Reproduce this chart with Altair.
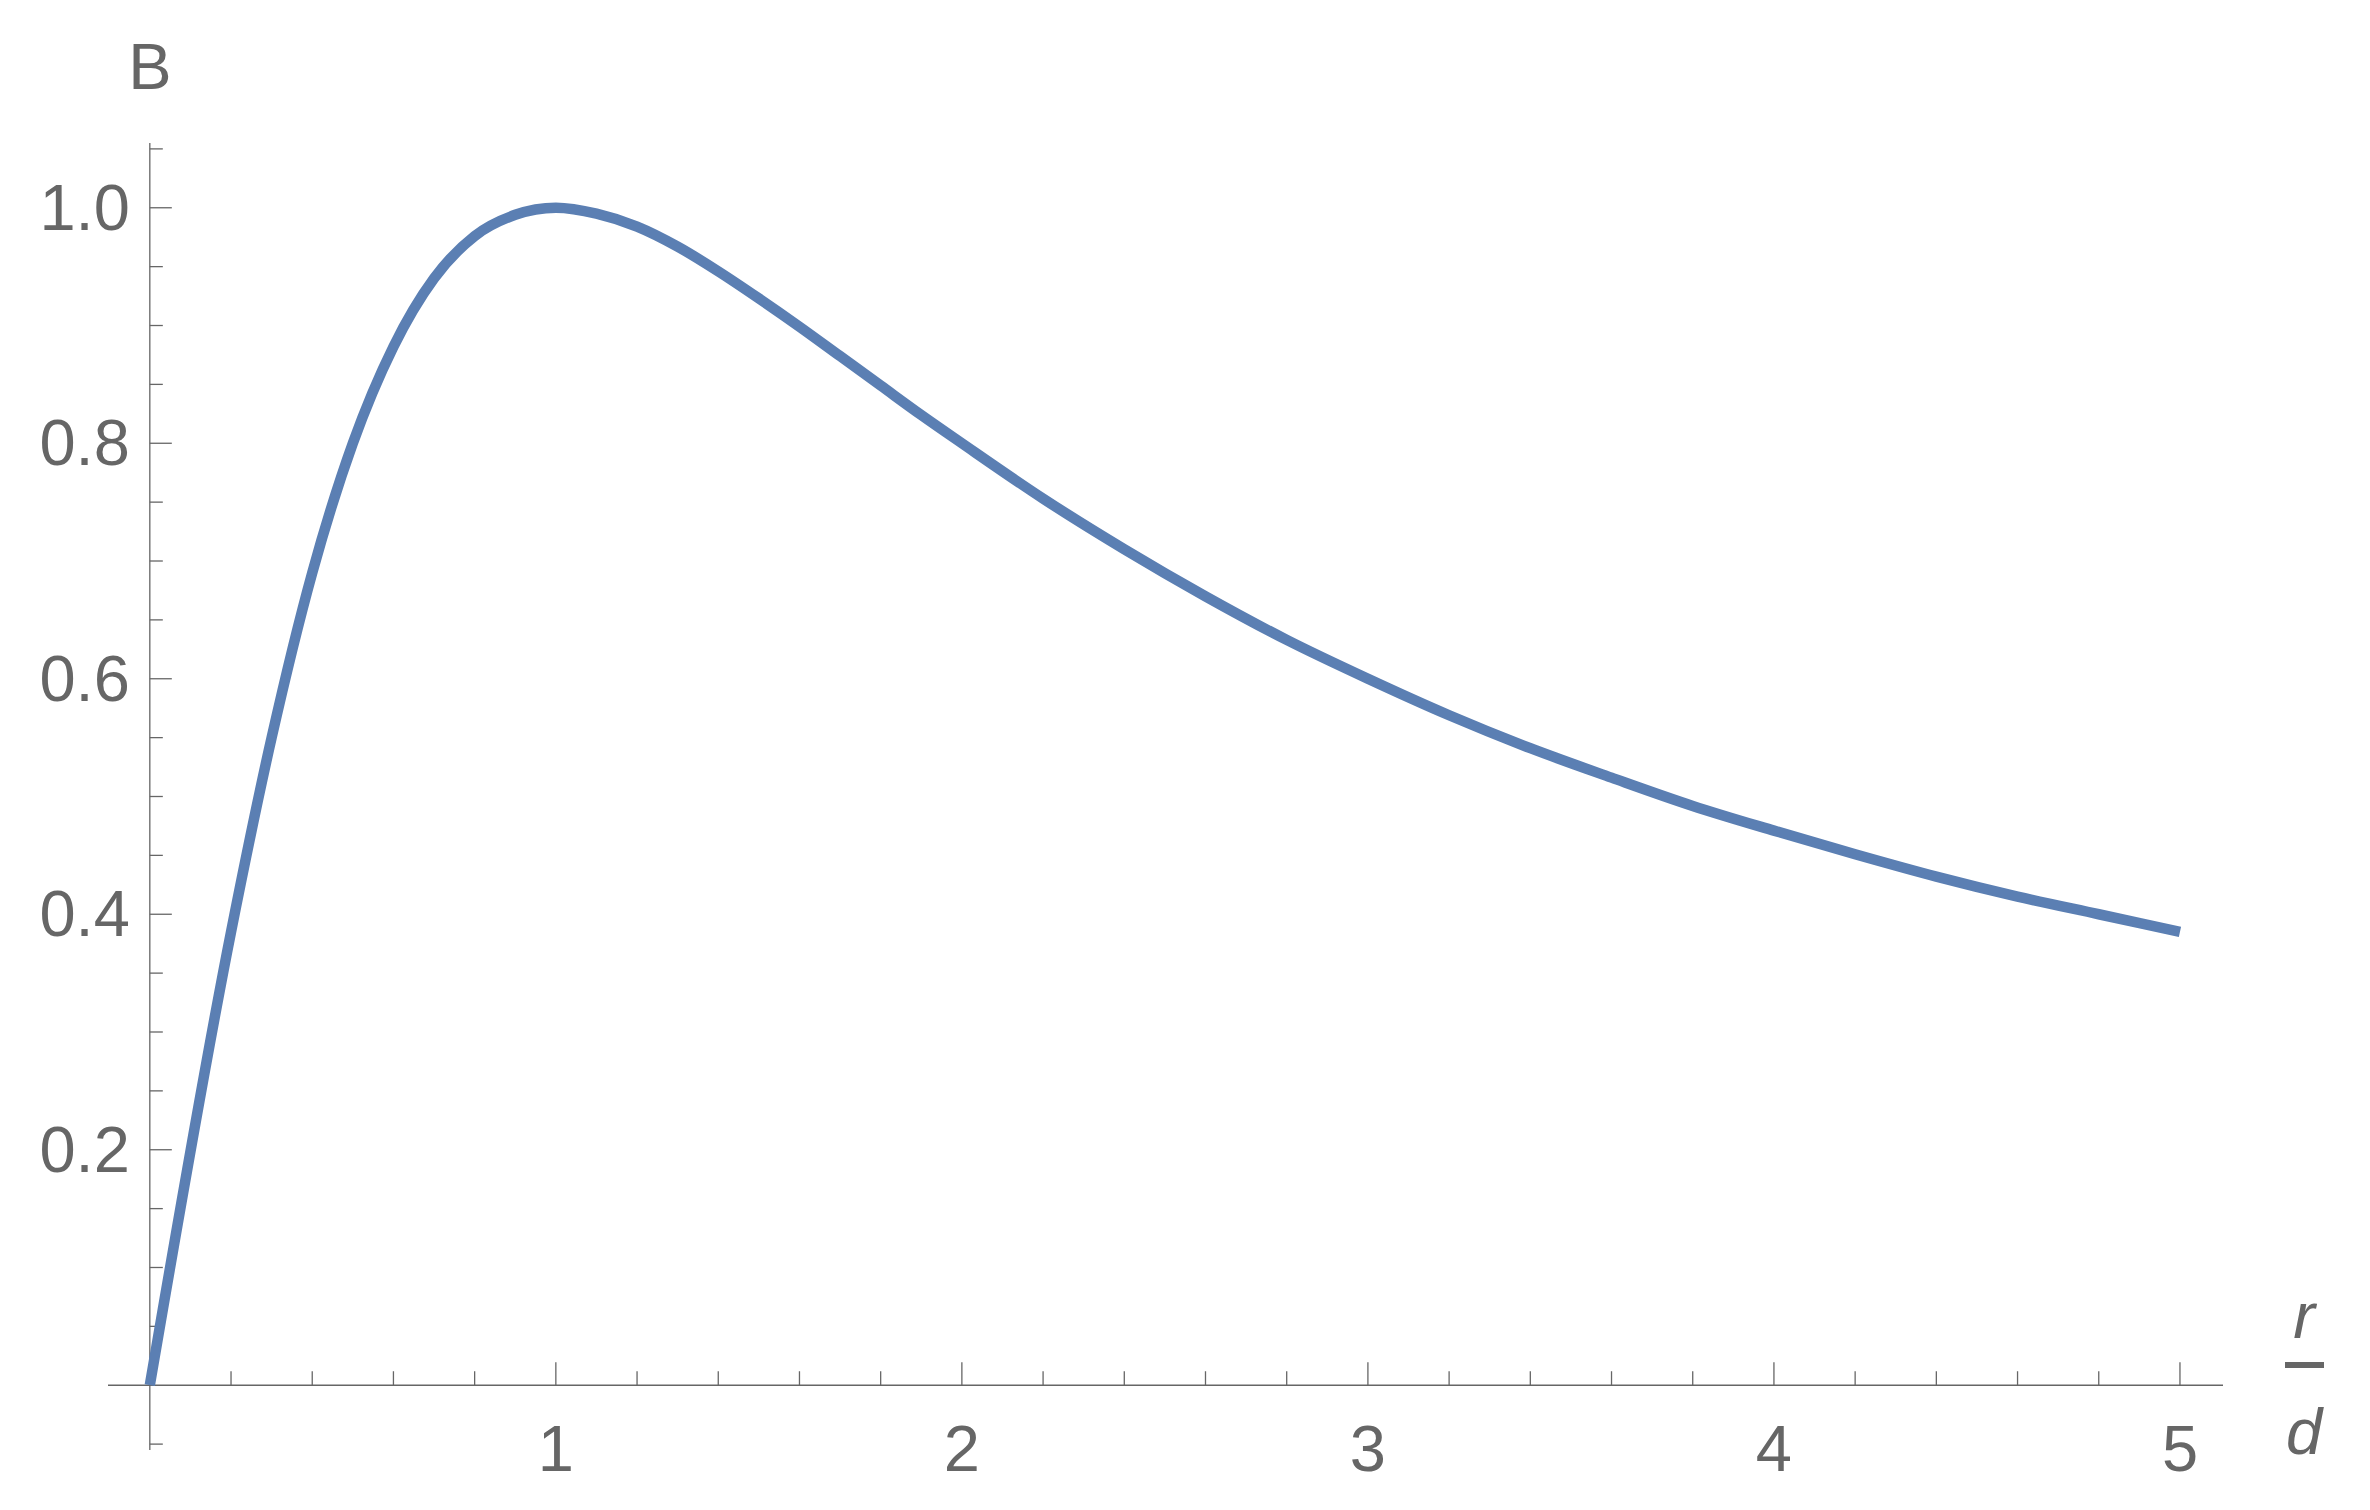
import altair as alt
import pandas as pd

# ---- data ----
r_over_d = [0.0, 0.2, 0.3, 0.4, 0.5, 0.6, 0.7, 0.8, 0.9, 1.0, 1.1, 1.2, 1.3, 1.4, 1.5,
            1.6, 1.7, 1.8, 1.9, 2.0, 2.2, 2.4, 2.6, 2.8, 3.0, 3.2, 3.4, 3.6, 3.8, 4.0,
            4.2, 4.4, 4.6, 4.8, 5.0]
B = [0.0, 0.385, 0.550, 0.690, 0.800, 0.882, 0.940, 0.976, 0.994, 1.000, 0.995, 0.984,
     0.967, 0.946, 0.923, 0.899, 0.874, 0.849, 0.824, 0.800, 0.753, 0.710, 0.670, 0.633,
     0.600, 0.569, 0.541, 0.516, 0.492, 0.471, 0.451, 0.432, 0.415, 0.400, 0.385]

x_major_ticks = [1, 2, 3, 4, 5]
x_tick_labels = ["1", "2", "3", "4", "5"]
x_minor_ticks = [0.2, 0.4, 0.6, 0.8, 1.2, 1.4, 1.6, 1.8, 2.2, 2.4, 2.6, 2.8,
                 3.2, 3.4, 3.6, 3.8, 4.2, 4.4, 4.6, 4.8]
y_major_ticks = [0.2, 0.4, 0.6, 0.8, 1.0]
y_tick_labels = ["0.2", "0.4", "0.6", "0.8", "1.0"]
y_minor_ticks = [-0.05, 0.05, 0.1, 0.15, 0.25, 0.3, 0.35, 0.45, 0.5, 0.55, 0.65, 0.7,
                 0.75, 0.85, 0.9, 0.95, 1.05]

X_DOMAIN = [-0.103, 5.106]
Y_DOMAIN = [-0.055, 1.055]

# ---- style ----
AXIS_COLOR = "#666666"
LINE_COLOR = "#5B7FB3"
FONT = "Liberation Sans"
FS = 65
W, H = 2115, 1307

xs = alt.Scale(domain=X_DOMAIN, nice=False, zero=False)
ys = alt.Scale(domain=Y_DOMAIN, nice=False, zero=False)

curve = pd.DataFrame({"x": r_over_d, "y": B})
xmaj = pd.DataFrame({"x": x_major_ticks, "y": [0] * len(x_major_ticks), "label": x_tick_labels})
xmin = pd.DataFrame({"x": x_minor_ticks, "y": [0] * len(x_minor_ticks)})
ymaj = pd.DataFrame({"y": y_major_ticks, "x": [0] * len(y_major_ticks), "label": y_tick_labels})
ymin = pd.DataFrame({"y": y_minor_ticks, "x": [0] * len(y_minor_ticks)})
xaxis = pd.DataFrame({"x": [X_DOMAIN[0]], "x2": [X_DOMAIN[1]], "y": [0]})
yaxis = pd.DataFrame({"y": [Y_DOMAIN[0]], "y2": [Y_DOMAIN[1]], "x": [0]})


def X(f):
    return alt.X(f, type="quantitative", scale=xs, axis=None)


def Y(f):
    return alt.Y(f, type="quantitative", scale=ys, axis=None)


x_axis_line = alt.Chart(xaxis).mark_rule(color=AXIS_COLOR, strokeWidth=1.3).encode(
    x=X("x"), x2="x2", y=Y("y"))
y_axis_line = alt.Chart(yaxis).mark_rule(color=AXIS_COLOR, strokeWidth=1.3).encode(
    x=X("x"), y=Y("y"), y2="y2")

x_major = alt.Chart(xmaj).mark_rule(color=AXIS_COLOR, strokeWidth=1.3, y2Offset=-23).encode(
    x=X("x"), y=Y("y"), y2="y")
x_minor = alt.Chart(xmin).mark_rule(color=AXIS_COLOR, strokeWidth=1.3, y2Offset=-14).encode(
    x=X("x"), y=Y("y"), y2="y")
y_major = alt.Chart(ymaj).mark_rule(color=AXIS_COLOR, strokeWidth=1.3, x2Offset=22).encode(
    y=Y("y"), x=X("x"), x2="x")
y_minor = alt.Chart(ymin).mark_rule(color=AXIS_COLOR, strokeWidth=1.3, x2Offset=13).encode(
    y=Y("y"), x=X("x"), x2="x")

x_labels = alt.Chart(xmaj).mark_text(
    font=FONT, fontSize=FS, color=AXIS_COLOR, align="center", baseline="alphabetic", dy=86
).encode(x=X("x"), y=Y("y"), text="label:N")
y_labels = alt.Chart(ymaj).mark_text(
    font=FONT, fontSize=FS, color=AXIS_COLOR, align="right", baseline="middle", dx=-20, dy=2
).encode(x=X("x"), y=Y("y"), text="label:N")

line = alt.Chart(curve).mark_line(
    color=LINE_COLOR, strokeWidth=10.5, interpolate="monotone", strokeCap="butt"
).encode(x=X("x"), y=Y("y"))

# axis titles
b_title = alt.Chart(pd.DataFrame({"x": [0], "y": [Y_DOMAIN[1]], "t": ["B"]})).mark_text(
    font=FONT, fontSize=FS, color=AXIS_COLOR, align="center", baseline="alphabetic", dy=-54
).encode(x=X("x"), y=Y("y"), text="t:N")

r_text = alt.Chart(pd.DataFrame({"t": ["r"]})).mark_text(
    font=FONT, fontSize=FS, fontStyle="italic", color=AXIS_COLOR, align="center",
    baseline="alphabetic"
).encode(x=alt.value(2196), y=alt.value(1195), text="t:N")
d_text = alt.Chart(pd.DataFrame({"t": ["d"]})).mark_text(
    font=FONT, fontSize=FS, fontStyle="italic", color=AXIS_COLOR, align="center",
    baseline="alphabetic"
).encode(x=alt.value(2196), y=alt.value(1311), text="t:N")
frac_bar = alt.Chart(pd.DataFrame({"a": [0]})).mark_rule(
    color=AXIS_COLOR, strokeWidth=6
).encode(x=alt.value(2177), x2=alt.value(2216), y=alt.value(1222))

chart = alt.layer(
    x_axis_line, y_axis_line, x_minor, x_major, y_minor, y_major,
    x_labels, y_labels, line, b_title, r_text, d_text, frac_bar
).properties(
    width=W, height=H,
    background="white",
    autosize=alt.AutoSizeParams(type="none"),
    padding={"left": 100, "top": 135, "right": 130, "bottom": 50},
).configure_view(strokeWidth=0, stroke=None)

chart.save("out.html", embed_options={"renderer": "svg", "actions": False})
